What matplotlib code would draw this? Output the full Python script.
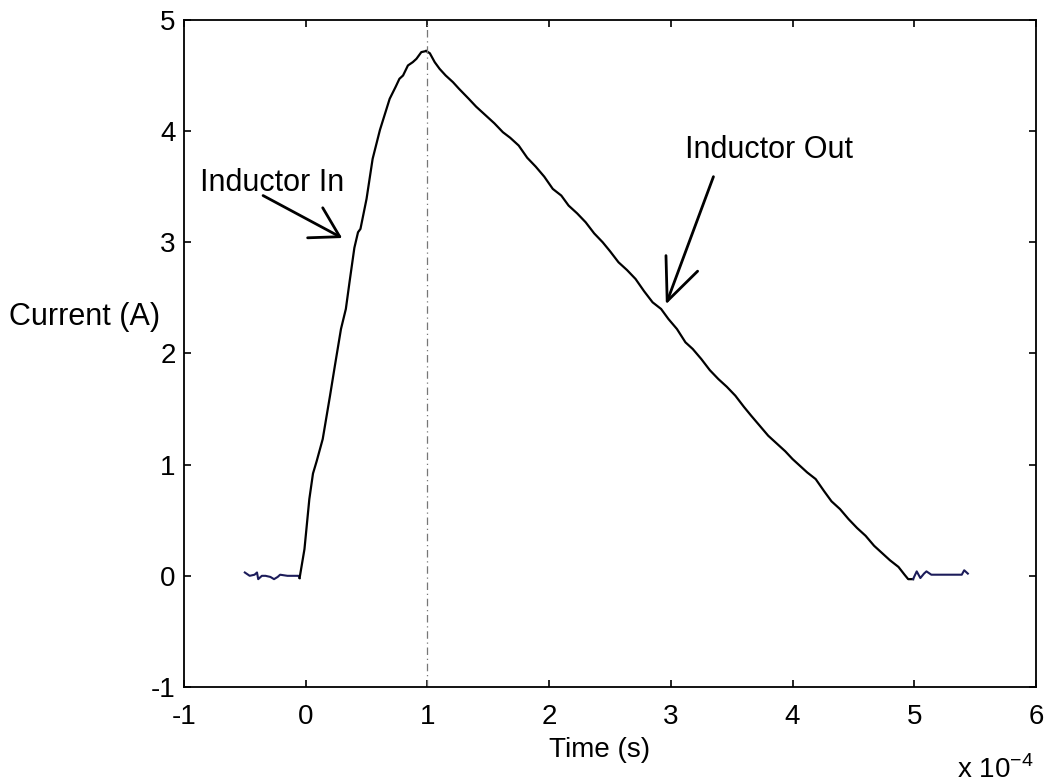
import numpy as np
import matplotlib
matplotlib.use('Agg')
import matplotlib.pyplot as plt

plt.rcParams['font.family'] = ['Liberation Sans', 'DejaVu Sans']
plt.rcParams['mathtext.fontset'] = 'custom'
plt.rcParams['mathtext.rm'] = 'Liberation Sans'
plt.rcParams['axes.unicode_minus'] = False

# time in units of 1e-4 s, current in A
t_pre = [-0.50, -0.46, -0.42, -0.40, -0.39, -0.36, -0.33, -0.29, -0.26, -0.23, -0.21, -0.15, -0.10, -0.06, -0.05]
i_pre = [0.03, 0.00, 0.01, 0.03, -0.03, 0.00, 0.00, -0.01, -0.03, -0.01, 0.01, 0.00, 0.00, 0.00, -0.02]

t_rise = [-0.05, -0.01, 0.03, 0.06, 0.09, 0.14, 0.20, 0.24, 0.29, 0.33, 0.36, 0.40, 0.43, 0.45,
          0.50, 0.55, 0.61, 0.69, 0.74, 0.77, 0.80, 0.84, 0.88, 0.91, 0.95, 0.99]
i_rise = [-0.02, 0.24, 0.69, 0.92, 1.03, 1.23, 1.62, 1.89, 2.22, 2.40, 2.64, 2.95, 3.09, 3.12,
          3.39, 3.75, 4.01, 4.29, 4.40, 4.47, 4.50, 4.59, 4.62, 4.65, 4.71, 4.72]

t_fall = [0.99, 1.02, 1.06, 1.10, 1.15, 1.21, 1.26, 1.34, 1.40, 1.48, 1.55, 1.62, 1.68, 1.75,
          1.82, 1.89, 1.96, 2.03, 2.10, 2.16, 2.23, 2.30, 2.37, 2.44, 2.50, 2.57, 2.64, 2.71,
          2.78, 2.85, 2.92, 2.98, 3.05, 3.12, 3.18, 3.25, 3.32, 3.39, 3.46, 3.53, 3.60, 3.66,
          3.73, 3.80, 3.87, 3.94, 4.00, 4.05, 4.12, 4.19, 4.26, 4.32, 4.39, 4.46, 4.53, 4.60,
          4.67, 4.73, 4.80, 4.87, 4.92, 4.95, 4.99]
i_fall = [4.72, 4.70, 4.62, 4.56, 4.50, 4.44, 4.38, 4.29, 4.22, 4.14, 4.07, 3.99, 3.94, 3.87,
          3.76, 3.68, 3.59, 3.48, 3.42, 3.33, 3.26, 3.18, 3.08, 3.00, 2.92, 2.82, 2.75, 2.67,
          2.56, 2.46, 2.40, 2.31, 2.22, 2.10, 2.04, 1.95, 1.85, 1.77, 1.70, 1.62, 1.52, 1.44,
          1.35, 1.26, 1.19, 1.12, 1.05, 1.00, 0.93, 0.87, 0.76, 0.67, 0.60, 0.51, 0.43, 0.36,
          0.27, 0.21, 0.14, 0.08, 0.01, -0.03, -0.03]

t_post = [4.99, 5.02, 5.05, 5.08, 5.10, 5.14, 5.20, 5.30, 5.39, 5.41, 5.44]
i_post = [-0.03, 0.04, -0.02, 0.02, 0.04, 0.01, 0.01, 0.01, 0.01, 0.05, 0.02]

xticks = [-1, 0, 1, 2, 3, 4, 5, 6]
yticks = [-1, 0, 1, 2, 3, 4, 5]

fig = plt.figure(figsize=(10.47, 7.83), dpi=100)
ax = fig.add_axes([0.1757, 0.1226, 0.8138, 0.852])

navy = '#1c1c5a'
ax.plot(t_pre, i_pre, color=navy, lw=1.5)
ax.plot(t_rise, i_rise, color='black', lw=1.6)
ax.plot(t_fall, i_fall, color='black', lw=1.6)
ax.plot(t_post, i_post, color=navy, lw=1.5)

ax.axvline(1, color='#777777', lw=0.9, ls=(0, (6, 3, 1, 3)))

# hand drawn style arrows
arr = dict(color='black', lw=2.0, solid_capstyle='round')
ax.plot([-0.35, 0.28], [3.42, 3.05], **arr)
ax.plot([0.14, 0.28, 0.016], [3.31, 3.05, 3.04], **arr)
ax.plot([3.35, 2.97], [3.59, 2.47], **arr)
ax.plot([2.96, 2.97, 3.22], [2.88, 2.47, 2.74], **arr)

ax.text(-0.87, 3.53, 'Inductor In', fontsize=22, ha='left', va='center')
ax.text(3.12, 3.83, 'Inductor Out', fontsize=22, ha='left', va='center')

ax.set_xlim(-1, 6)
ax.set_ylim(-1, 5)
ax.set_xticks(xticks)
ax.set_yticks(yticks)
ax.tick_params(direction='in', length=5, width=1.2, labelsize=20, top=True, right=True)
ax.tick_params(axis='x', pad=12)
ax.tick_params(axis='y', pad=6)
for s in ax.spines.values():
    s.set_linewidth(1.3)

ax.set_xlabel('Time (s)', fontsize=20)
ax.xaxis.set_label_coords(0.488, -0.075)
ax.set_ylabel('Current (A)', fontsize=22, rotation=0, ha='right', va='center')
ax.yaxis.set_label_coords(-0.028, 0.555)

fig.text(1033 / 1047, 1 - 778 / 783, r'x 10$^{\mathregular{-4}}$', fontsize=20, ha='right', va='baseline')

fig.savefig('out.png', dpi=100)
